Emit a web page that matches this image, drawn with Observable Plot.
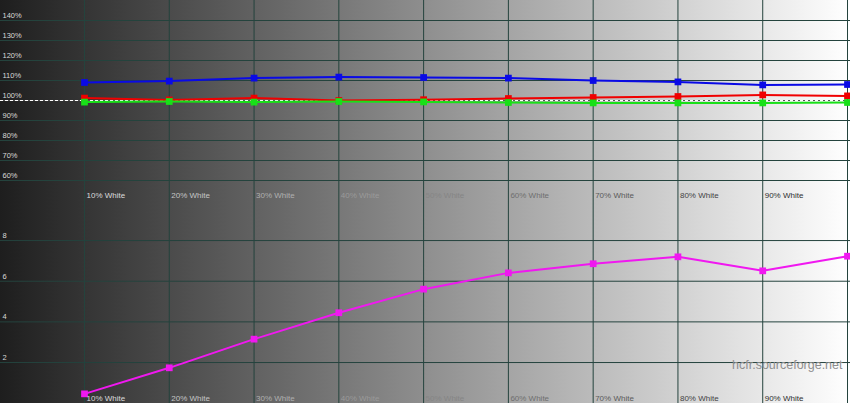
<!DOCTYPE html>
<html>
<head>
<meta charset="utf-8">
<script src="https://cdn.jsdelivr.net/npm/d3@7"></script>
<script src="https://cdn.jsdelivr.net/npm/@observablehq/plot@0.6"></script>
<style>
  html, body { margin: 0; padding: 0; background: #fff; }
  #chart { width: 850px; height: 403px; background: linear-gradient(to right, #1e1e1e 0%, #ffffff 100%); overflow: hidden; }
  #chart svg { display: block; }
</style>
</head>
<body>
<div id="chart"></div>
<script>
// ---- data ----
const steps = [10, 20, 30, 40, 50, 60, 70, 80, 90, 100];
const stepLabels = ["10% White", "20% White", "30% White", "40% White", "50% White", "60% White", "70% White", "80% White", "90% White"];
const redLevel   = [101.2, 100.3, 101.2, 100.0, 100.4, 101.0, 101.5, 102.0, 102.8, 102.3];
const greenLevel = [99.2, 99.5, 99.2, 99.5, 99.3, 99.0, 98.8, 98.8, 98.8, 99.0];
const blueLevel  = [109.0, 109.7, 111.2, 111.7, 111.5, 111.2, 110.0, 109.3, 107.8, 108.0];
const deltaE     = [0.46, 1.74, 3.15, 4.45, 5.61, 6.41, 6.86, 7.2, 6.51, 7.23];
const pctTicks = [60, 70, 80, 90, 100, 110, 120, 130, 140];
const deTicks = [2, 4, 6, 8];
const reference = [100];
const watermark = ["hcfr.sourceforge.net"];

// ---- build ----
const rgb = [
  ...steps.map((s, i) => ({step: s, value: redLevel[i], ch: "R"})),
  ...steps.map((s, i) => ({step: s, value: greenLevel[i], ch: "G"})),
  ...steps.map((s, i) => ({step: s, value: blueLevel[i], ch: "B"}))
];
const chColor = {R: "#f00000", G: "#18e018", B: "#0a0ae6"};
const labelData = stepLabels.map((t, i) => ({step: steps[i], text: t}));
const de = steps.map((s, i) => ({step: s, value: deltaE[i]}));
const labelFill = d => { const g = Math.round(240 - 215 * d.step / 100); return `rgb(${g},${g},${g})`; };
const gridColor = "#24433d";
const xOpts = {domain: [10, 100], range: [84, 847], axis: null};
const fontFam = "Liberation Sans, Arial, sans-serif";

const topPlot = Plot.plot({
  width: 850, height: 200, margin: 0,
  style: {background: "transparent", overflow: "visible", fontFamily: fontFam},
  x: xOpts,
  y: {domain: [50, 150], range: [200, 0], axis: null},
  marks: [
    Plot.ruleX(steps, {x: d => d, stroke: gridColor, strokeWidth: 1}),
    Plot.ruleY(pctTicks, {y: d => d, stroke: gridColor, strokeWidth: 1}),
    Plot.text(pctTicks, {y: d => d, text: d => d + "%", frameAnchor: "left", textAnchor: "start", dx: 2, dy: -5, fill: "#d8d8d8", fontSize: 7.5}),
    Plot.ruleY(reference, {y: d => d, stroke: "#555", strokeWidth: 1}),
    Plot.ruleY(reference, {y: d => d, stroke: "#fff", strokeWidth: 1, strokeDasharray: "3,2"}),
    Plot.line(rgb.filter(d => d.ch === "B"), {x: "step", y: "value", stroke: chColor.B, strokeWidth: 2}),
    Plot.dot(rgb.filter(d => d.ch === "B"), {x: "step", y: "value", symbol: "square", r: 3.8, fill: chColor.B}),
    Plot.line(rgb.filter(d => d.ch === "R"), {x: "step", y: "value", stroke: chColor.R, strokeWidth: 2}),
    Plot.dot(rgb.filter(d => d.ch === "R"), {x: "step", y: "value", symbol: "square", r: 3.8, fill: chColor.R}),
    Plot.line(rgb.filter(d => d.ch === "G"), {x: "step", y: "value", stroke: chColor.G, strokeWidth: 2}),
    Plot.dot(rgb.filter(d => d.ch === "G"), {x: "step", y: "value", symbol: "square", r: 3.8, fill: chColor.G}),
    Plot.text(labelData, {x: "step", text: "text", frameAnchor: "bottom", textAnchor: "start", dx: 2, dy: -3, fill: labelFill, fontSize: 8})
  ]
});

const bottomPlot = Plot.plot({
  width: 850, height: 203, margin: 0,
  style: {background: "transparent", overflow: "visible", fontFamily: fontFam},
  x: xOpts,
  y: {domain: [0, 10], range: [202.7, -0.6], axis: null},
  marks: [
    Plot.ruleX(steps, {x: d => d, stroke: gridColor, strokeWidth: 1}),
    Plot.ruleY(deTicks, {y: d => d, stroke: gridColor, strokeWidth: 1}),
    Plot.text(deTicks, {y: d => d, text: d => String(d), frameAnchor: "left", textAnchor: "start", dx: 2, dy: -5, fill: "#d8d8d8", fontSize: 7.5}),
    Plot.text(watermark, {text: d => d, frameAnchor: "bottom-right", textAnchor: "end", dx: -8, dy: -35, fill: "#8e8e8e", fontSize: 12.5}),
    Plot.line(de, {x: "step", y: "value", stroke: "#f018f0", strokeWidth: 2}),
    Plot.dot(de, {x: "step", y: "value", symbol: "square", r: 3.8, fill: "#f018f0"}),
    Plot.text(labelData, {x: "step", text: "text", frameAnchor: "bottom", textAnchor: "start", dx: 2, dy: -3, fill: labelFill, fontSize: 8})
  ]
});

const el = document.getElementById("chart");
el.appendChild(topPlot);
el.appendChild(bottomPlot);
</script>
</body>
</html>
